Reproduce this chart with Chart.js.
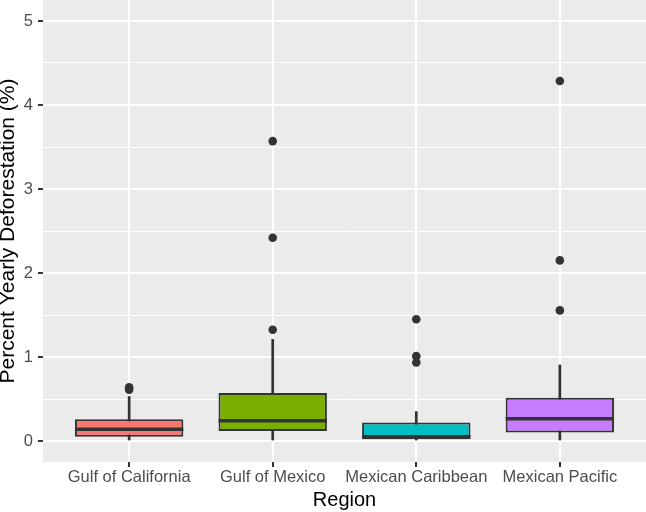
<!DOCTYPE html>
<html>
<head>
<meta charset="utf-8">
<script src="https://cdn.jsdelivr.net/npm/chart.js@4.4.1/dist/chart.umd.min.js"></script>
<style>
html,body{margin:0;padding:0;background:#fff;}
#wrap{width:646px;height:512px;}
</style>
</head>
<body>
<div id="wrap"><canvas id="c" width="646" height="512"></canvas></div>
<script>
// ---- data ----
const categories = ['Gulf of California', 'Gulf of Mexico', 'Mexican Caribbean', 'Mexican Pacific'];
const whiskerLow = [0, 0, 0, 0];
const q1 = [0.05, 0.12, 0.02, 0.10];
const medians = [0.14, 0.24, 0.05, 0.265];
const q3 = [0.26, 0.57, 0.22, 0.515];
const whiskerHigh = [0.53, 1.21, 0.35, 0.905];
const outliers = [
  [0.61, 0.64],
  [1.325, 2.42, 3.57],
  [0.935, 1.01, 1.45],
  [1.555, 2.15, 4.285]
];
const yTicks = [0, 0.5, 1, 1.5, 2, 2.5, 3, 3.5, 4, 4.5, 5];
const yLabel = 'Percent Yearly Deforestation (%)';
const xLabel = 'Region';

// ---- styles ----
const fillColors = ['#F8766D', '#7CAE00', '#00BFC4', '#C77CFF'];
const ink = '#333333';
const FONT = '"Liberation Sans", Arial, Helvetica, sans-serif';

const boxData = categories.map((c, i) => ({ x: i, y: [q1[i], q3[i]] }));
const whiskerData = categories.map((c, i) => ({ x: i, y: [whiskerLow[i], whiskerHigh[i]] }));
const outlierData = [];
outliers.forEach((arr, i) => arr.forEach(v => outlierData.push({ x: i, y: v })));

const bgPlugin = {
  id: 'panelBg',
  beforeDraw(chart) {
    const { ctx, chartArea: a } = chart;
    ctx.save();
    ctx.fillStyle = '#ffffff';
    ctx.fillRect(0, 0, chart.width, chart.height);
    ctx.fillStyle = '#EBEBEB';
    ctx.fillRect(a.left, a.top, a.right - a.left, a.bottom - a.top);
    ctx.restore();
  }
};

const medianPlugin = {
  id: 'medianLines',
  afterDatasetsDraw(chart) {
    const meta = chart.getDatasetMeta(1);
    const ys = chart.scales.y;
    const ctx = chart.ctx;
    ctx.save();
    ctx.strokeStyle = ink;
    ctx.lineWidth = 3.5;
    meta.data.forEach((bar, i) => {
      const p = bar.getProps(['x', 'width'], true);
      const py = ys.getPixelForValue(medians[i]);
      ctx.beginPath();
      ctx.moveTo(p.x - p.width / 2, py);
      ctx.lineTo(p.x + p.width / 2, py);
      ctx.stroke();
    });
    ctx.restore();
  }
};

new Chart(document.getElementById('c'), {
  type: 'bar',
  data: {
    datasets: [
      {
        type: 'bar',
        data: whiskerData,
        backgroundColor: ink,
        borderWidth: 0,
        barThickness: 2,
        grouped: false,
        order: 3
      },
      {
        type: 'bar',
        data: boxData,
        backgroundColor: fillColors,
        borderColor: ink,
        borderWidth: 2,
        borderSkipped: false,
        barPercentage: 0.755,
        categoryPercentage: 1,
        grouped: false,
        order: 2
      },
      {
        type: 'line',
        data: outlierData,
        showLine: false,
        pointRadius: 4.3,
        pointBackgroundColor: ink,
        pointBorderWidth: 0,
        clip: false,
        order: 1
      }
    ]
  },
  options: {
    responsive: false,
    animation: false,
    events: [],
    layout: { padding: 0, autoPadding: false },
    plugins: { legend: { display: false }, tooltip: { enabled: false } },
    scales: {
      x: {
        type: 'linear',
        min: -0.6,
        max: 3.6,
        offset: false,
        afterBuildTicks: s => { s.ticks = categories.map((c, i) => ({ value: i })); },
        afterFit: s => { s.height = 50; s.paddingLeft = 0; s.paddingRight = 0; },
        ticks: {
          callback: v => categories[v] !== undefined ? categories[v] : '',
          font: { family: FONT, size: 16.5, lineHeight: 1.2 },
          color: '#4D4D4D',
          padding: 1,
          maxRotation: 0,
          autoSkip: false
        },
        grid: {
          offset: false,
          color: '#ffffff',
          lineWidth: 2,
          drawTicks: true,
          tickLength: 5,
          tickWidth: 2,
          tickColor: ink
        },
        border: { display: false },
        title: {
          display: true,
          text: xLabel,
          color: '#000000',
          font: { family: FONT, size: 20, lineHeight: 1.2 },
          padding: { top: 0, bottom: 0 }
        }
      },
      y: {
        type: 'linear',
        min: -0.25,
        max: 5.25,
        afterBuildTicks: s => { s.ticks = yTicks.map(v => ({ value: v })); },
        afterFit: s => { s.width = 43; s.paddingTop = 0; s.paddingBottom = 0; },
        ticks: {
          callback: v => Number.isInteger(v) ? String(v) : '',
          font: { family: FONT, size: 16.5, lineHeight: 1.2 },
          color: '#4D4D4D',
          padding: 5,
          autoSkip: false
        },
        grid: {
          color: '#ffffff',
          lineWidth: c => Number.isInteger(c.tick.value) ? 2 : 1,
          drawTicks: true,
          tickLength: 5,
          tickWidth: 2,
          tickColor: c => Number.isInteger(c.tick.value) ? ink : 'rgba(0,0,0,0)'
        },
        border: { display: false },
        title: {
          display: true,
          text: yLabel,
          color: '#000000',
          font: { family: FONT, size: 21, lineHeight: 0.8 },
          padding: { top: 0, bottom: 0 }
        }
      }
    }
  },
  plugins: [bgPlugin, medianPlugin]
});
</script>
</body>
</html>
